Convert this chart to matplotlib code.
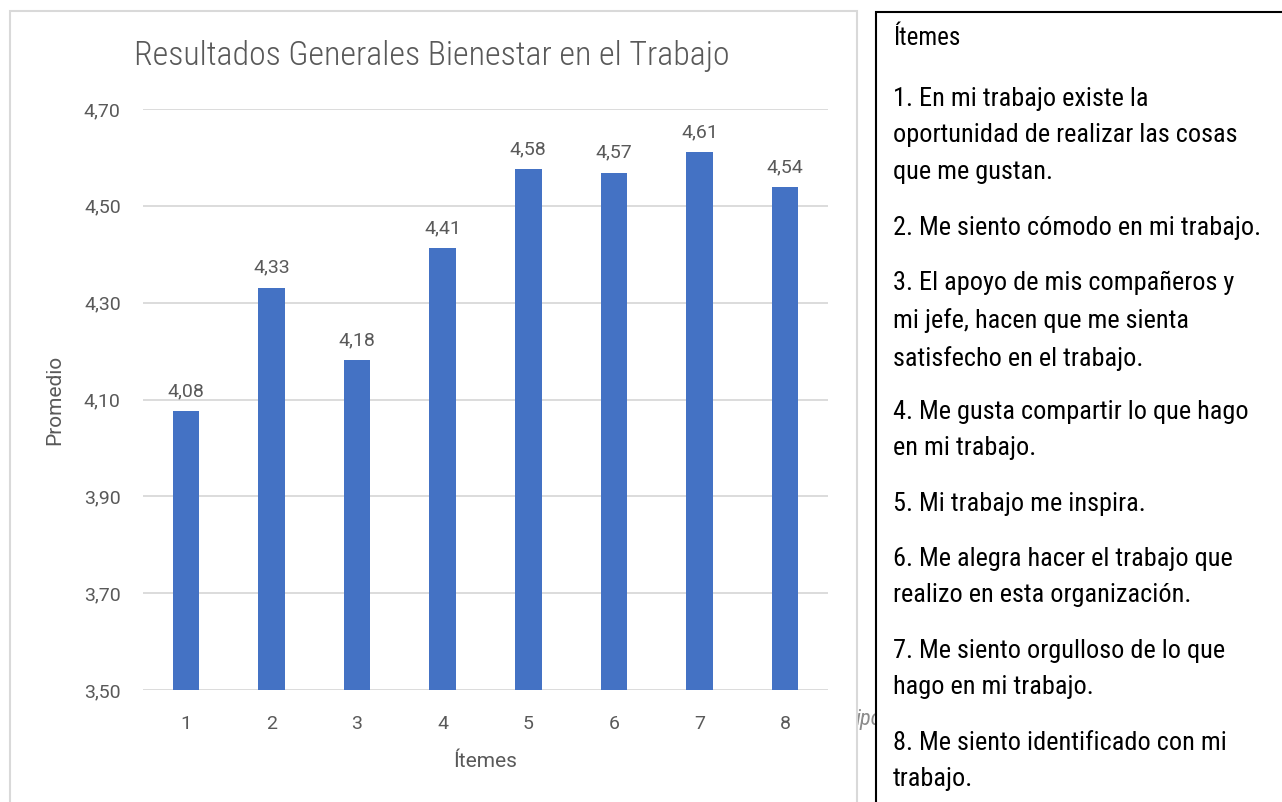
import matplotlib
matplotlib.use("Agg")
import matplotlib.pyplot as plt
from matplotlib.patches import Rectangle

plt.rcParams['font.family'] = ['Roboto Condensed', 'Archivo Narrow', 'DejaVu Sans']

# datos
items = ["1", "2", "3", "4", "5", "6", "7", "8"]
promedios = [4.076, 4.331, 4.181, 4.412, 4.576, 4.568, 4.611, 4.538]
yticks = [3.50, 3.70, 3.90, 4.10, 4.30, 4.50, 4.70]
descripciones = [
    "1. En mi trabajo existe la\noportunidad de realizar las cosas\nque me gustan.",
    "2. Me siento cómodo en mi trabajo.",
    "3. El apoyo de mis compañeros y\nmi jefe, hacen que me sienta\nsatisfecho en el trabajo.",
    "4. Me gusta compartir lo que hago\nen mi trabajo.",
    "5. Mi trabajo me inspira.",
    "6. Me alegra hacer el trabajo que\nrealizo en esta organización.",
    "7. Me siento orgulloso de lo que\nhago en mi trabajo.",
    "8. Me siento identificado con mi\ntrabajo.",
]

W, H = 1282, 802
gris = "#595959"
azul = "#4472C4"
fuente_num = ['Roboto', 'DejaVu Sans']

fig = plt.figure(figsize=(W / 100, H / 100), dpi=100)

# recuadro del grafico
fig.patches.append(Rectangle((10 / W, -0.05), 847 / W, 1 - 11 / H + 0.05,
                             transform=fig.transFigure, facecolor="white",
                             edgecolor="#D9D9D9", lw=1.5, zorder=1))

ax = fig.add_axes([143 / W, 112 / H, 685 / W, 581 / H])
ax.set_zorder(2)
x = list(range(len(items)))
bars = ax.bar(x, promedios, width=0.31, color=azul, zorder=3)
ax.set_ylim(3.5, 4.7)
ax.set_xlim(-0.5, 7.5)
ax.set_yticks(yticks)
ax.set_yticklabels([f"{v:.2f}".replace(".", ",") for v in yticks])
ax.set_xticks(x)
ax.set_xticklabels(items)
ax.grid(axis="y", color="#D9D9D9", lw=1.3, zorder=0)
for s in ax.spines.values():
    s.set_visible(False)
ax.tick_params(length=0, labelsize=14, colors=gris)
ax.tick_params(axis="y", pad=16)
ax.tick_params(axis="x", pad=18)
for t in ax.get_xticklabels() + ax.get_yticklabels():
    t.set_family(fuente_num)
for b, v in zip(bars, promedios):
    ax.annotate(f"{v:.2f}".replace(".", ","), (b.get_x() + b.get_width() / 2, v),
                xytext=(0, 8), textcoords="offset points", ha="center", va="bottom",
                fontsize=14, color=gris, family=fuente_num)
ax.set_ylabel("Promedio", fontsize=15, color=gris, labelpad=14, family=fuente_num)
ax.set_xlabel("Ítemes", fontsize=15, color=gris, labelpad=14, family=fuente_num)
fig.text(432 / W, 1 - 56 / H, "Resultados Generales Bienestar en el Trabajo",
         fontsize=24.4, color=gris, ha="center", va="center", zorder=3, fontweight="light")

# texto parcialmente oculto
fig.text(856 / W, 1 - 720 / H, "ipo", fontsize=16, style="italic", color="#8C8C8C",
         ha="left", va="center", zorder=0)

# recuadro de items
fig.patches.append(Rectangle((876 / W, -0.05), 0.5, 1 - 12 / H + 0.05,
                             transform=fig.transFigure, facecolor="white",
                             edgecolor="black", lw=1.5, zorder=5))
fig.text(893 / W, 1 - 38 / H, "Ítemes", fontsize=18, color="black", va="center", zorder=6)
y = 100
for d in descripciones:
    n = d.count("\n") + 1
    fig.text(893 / W, 1 - (y - 13) / H, d, fontsize=18.9, color="black",
             va="top", linespacing=1.65, zorder=6)
    y += 36.5 * n + 19

fig.savefig("out.png", dpi=100)
